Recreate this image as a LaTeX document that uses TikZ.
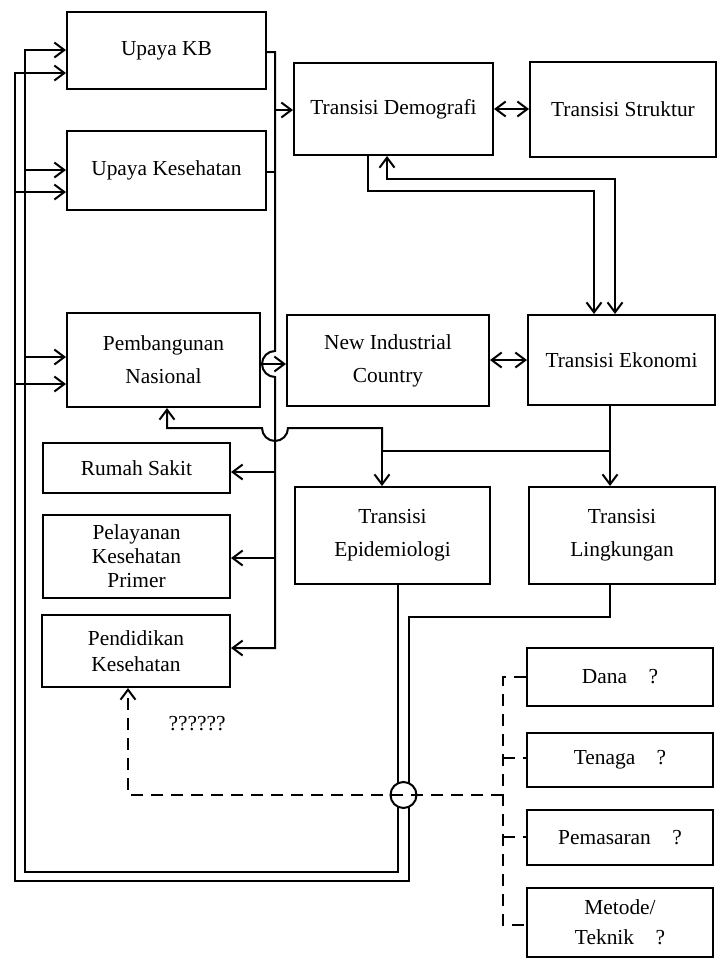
\documentclass[tikz,border=0pt]{standalone}
\usepackage{fontspec}
\setmainfont{Liberation Serif}
\usepackage{pgf,tikz}
\usetikzlibrary{arrows.meta}

\begin{document}
\begin{tikzpicture}[x=0.5pt,y=-0.5pt,
      >={Straight Barb[length=5pt,width=7.5pt]},
      kotak/.style={draw, line width=1pt, align=center, inner sep=0pt,
        font=\fontsize{10.7}{16.5}\selectfont},
      garis/.style={line width=1pt},
      panah/.style={garis, ->},
      duapanah/.style={garis, <->},
      putus/.style={line width=1pt, dash pattern=on 6pt off 4pt}]
      \useasboundingbox (0,0) rectangle (723,959);

      \node[kotak, minimum width=99.5pt, minimum height=38.5pt] (kb) at (166.5,50.5) {Upaya KB};
      \node[kotak, minimum width=99.5pt, minimum height=39.5pt] (kes) at (166.5,170.5) {Upaya Kesehatan};
      \node[kotak, minimum width=99.5pt, minimum height=46pt] (demo) at (393.5,109) {Transisi Demografi};
      \node[kotak, minimum width=93pt, minimum height=47.5pt] (struk) at (623,109.5) {Transisi Struktur};
      \node[kotak, minimum width=96.5pt, minimum height=47pt] (pemb) at (163.5,360) {Pembangunan\\Nasional};
      \node[kotak, minimum width=101pt, minimum height=45.5pt] (nic) at (388,360.5) {New Industrial\\Country};
      \node[kotak, minimum width=93.5pt, minimum height=45pt] (eko) at (621.5,360) {Transisi Ekonomi};
      \node[kotak, minimum width=93.5pt, minimum height=25pt] (rs) at (136.5,468) {Rumah Sakit};
      \node[kotak, minimum width=93.5pt, minimum height=41.5pt,
        font=\fontsize{10.7}{12}\selectfont] (pkp) at (136.5,556.5) {Pelayanan\\Kesehatan\\Primer};
      \node[kotak, minimum width=94pt, minimum height=36pt,
        font=\fontsize{10.7}{13}\selectfont] (pk) at (136,651) {Pendidikan\\Kesehatan};
      \node[kotak, minimum width=97.5pt, minimum height=48.5pt] (epi) at (392.5,535.5) {Transisi\\Epidemiologi};
      \node[kotak, minimum width=93pt, minimum height=48.5pt] (ling) at (622,535.5) {Transisi\\Lingkungan};
      \node[kotak, minimum width=93pt, minimum height=29pt] (dana) at (620,677) {Dana\quad ?};
      \node[kotak, minimum width=93pt, minimum height=27pt] (tenaga) at (620,760) {Tenaga\quad ?};
      \node[kotak, minimum width=93pt, minimum height=27.5pt] (pasar) at (620,837.5) {Pemasaran\quad ?};
      \node[kotak, minimum width=93pt, minimum height=34.5pt,
        font=\fontsize{10.7}{15}\selectfont] (metode) at (620,922.5) {Metode/\\Teknik\quad ?};
      \node[font=\fontsize{10.7}{13}\selectfont] (tanya) at (197,724) {??????};

      \coordinate (a1) at (275,52);
      \coordinate (a2) at (275,172);
      \coordinate (a3) at (275,110);
      \coordinate (a4) at (275,472);
      \coordinate (a5) at (275,558);
      \coordinate (a6) at (275,648);
      \coordinate (lompat1) at (275,364);
      \draw[panah] (kb.east |- a1) -- (a1) -- ([yshift=6.5pt]lompat1)
        arc[start angle=90, end angle=270, radius=6.5pt] -- (a6) -- (pk.east |- a6);
      \draw[garis] (kes.east |- a2) -- (a2);
      \draw[panah] (a3) -- (demo.west |- a3);
      \draw[panah] (a4) -- (rs.east |- a4);
      \draw[panah] (a5) -- (pkp.east |- a5);
      \draw[panah] (pemb.east |- lompat1) -- (nic.west |- lompat1);

      \coordinate (b1) at (610,451);
      \coordinate (b2) at (382,451);
      \coordinate (b3) at (382,428);
      \coordinate (b4) at (167,428);
      \coordinate (lompat2) at (275,428);
      \draw[panah] (eko.south -| b1) -- (ling.north -| b1);
      \draw[panah] (b1) -- (b2) -- (epi.north -| b2);
      \draw[panah] (b2) -- (b3) -- ([xshift=6.5pt]lompat2)
        arc[start angle=0, end angle=-180, radius=6.5pt] -- (b4) -- (pemb.south -| b4);

      \coordinate (c1) at (368,191);
      \coordinate (c2) at (594,191);
      \coordinate (c3) at (387,179);
      \coordinate (c4) at (615,179);
      \draw[panah] (demo.south -| c1) -- (c1) -- (c2) -- (eko.north -| c2);
      \draw[duapanah] (demo.south -| c3) -- (c3) -- (c4) -- (eko.north -| c4);
      \draw[duapanah] (demo.east) -- (struk.west |- demo.east);
      \draw[duapanah] (nic.east |- eko.west) -- (eko.west);

      \coordinate (lompat3) at (403.5,795);
      \coordinate (i1) at (398,783);
      \coordinate (i2) at (398,807);
      \coordinate (i3) at (398,872);
      \coordinate (i4) at (25,872);
      \coordinate (i5) at (25,50);
      \coordinate (i6) at (25,170);
      \coordinate (i7) at (25,357);
      \draw[garis] (epi.south -| i1) -- (i1);
      \draw[panah] (i2) -- (i3) -- (i4) -- (i5) -- (kb.west |- i5);
      \draw[panah] (i6) -- (kes.west |- i6);
      \draw[panah] (i7) -- (pemb.west |- i7);

      \coordinate (o1) at (610,617);
      \coordinate (o2) at (409,617);
      \coordinate (o3) at (409,783);
      \coordinate (o4) at (409,807);
      \coordinate (o5) at (409,881);
      \coordinate (o6) at (15,881);
      \coordinate (o7) at (15,73);
      \coordinate (o8) at (15,192);
      \coordinate (o9) at (15,384);
      \draw[garis] (ling.south -| o1) -- (o1) -- (o2) -- (o3);
      \draw[panah] (o4) -- (o5) -- (o6) -- (o7) -- (kb.west |- o7);
      \draw[panah] (o8) -- (kes.west |- o8);
      \draw[panah] (o9) -- (pemb.west |- o9);
      \draw[garis] (lompat3) circle[radius=6.5pt];

      \coordinate (t1) at (503,677);
      \coordinate (t2) at (503,758);
      \coordinate (t3) at (503,837);
      \coordinate (t4) at (503,925);
      \coordinate (t5) at (503,795);
      \coordinate (t6) at (128,795);
      \draw[putus] (dana.west |- t1) -- (t1) -- (t4) -- (metode.west |- t4);
      \draw[putus] (t2) -- (tenaga.west |- t2);
      \draw[putus] (t3) -- (pasar.west |- t3);
      \draw[putus, ->] (t5) -- (t6) -- (pk.south -| t6);

    \end{tikzpicture}
\end{document}
